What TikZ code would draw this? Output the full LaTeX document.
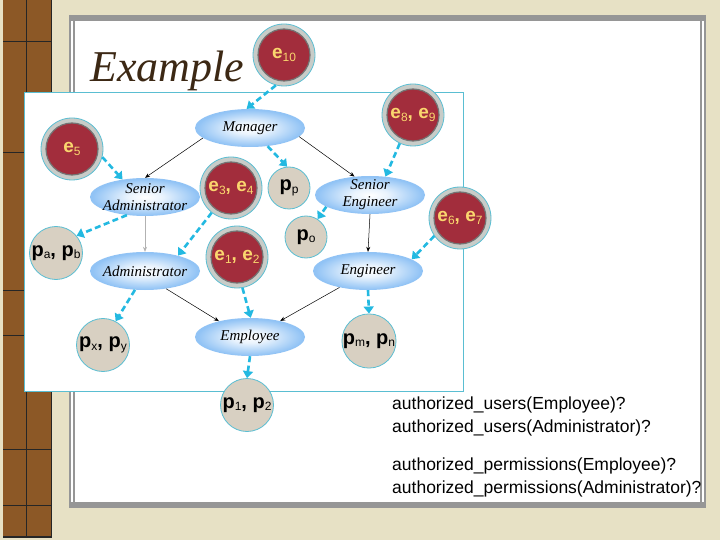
\documentclass[tikz,border=0pt]{standalone}
\usepackage{fontspec}
\setmainfont{Liberation Serif}
\setsansfont{Liberation Sans}
\usetikzlibrary{arrows.meta,shapes.geometric}

\definecolor{slidebg}{RGB}{231,225,197}
\definecolor{wood}{RGB}{140,88,38}
\definecolor{framegray}{RGB}{150,150,150}
\definecolor{boxcyan}{RGB}{90,190,210}
\definecolor{linkcyan}{RGB}{35,185,225}
\definecolor{ered}{RGB}{162,45,60}
\definecolor{eyellow}{RGB}{250,214,110}
\definecolor{ringgray}{RGB}{200,204,200}
\definecolor{pbeige}{RGB}{216,208,194}
\definecolor{roleblue}{RGB}{145,195,245}
\definecolor{titlebrown}{RGB}{60,40,20}

\pgfdeclareradialshading{roleshade}{\pgfpoint{0bp}{0bp}}{%
  color(0bp)=(white); color(8bp)=(white!80!roleblue);
  color(24bp)=(roleblue); color(50bp)=(roleblue)}

% small lowered index in the chips
\newcommand\lo[1]{\raisebox{-2.5bp}{\fontsize{12bp}{12bp}\selectfont\mdseries #1}}

\begin{document}
\begin{tikzpicture}[x=1bp, y=-1bp,
  role/.style={ellipse, minimum width=110bp, minimum height=38bp,
    inner sep=-4bp, shade, shading=roleshade, align=center,
    font=\itshape\fontsize{15bp}{17bp}\selectfont},
  echip/.style={circle, minimum size=62bp, inner sep=0pt, fill=ringgray,
    draw=boxcyan, line width=0.8bp, text=eyellow,
    font=\sffamily\bfseries\fontsize{19bp}{19bp}\selectfont,
    path picture={\filldraw[fill=ered, draw=black!55, line width=1.2bp]
      (path picture bounding box.center) circle (26bp);}},
  pchip/.style={circle, minimum size=#1, inner sep=0pt, fill=pbeige,
    draw=boxcyan, line width=0.8bp,
    font=\sffamily\bfseries\fontsize{20bp}{20bp}\selectfont},
  inherit/.style={-{Stealth[length=5bp, width=4bp]}, line width=0.5bp},
  assign/.style={-{Triangle[length=7bp, width=10bp]}, linkcyan,
    line width=2.6bp, dash pattern=on 6bp off 3.5bp}]

  % Slide background
  \useasboundingbox (0,0) rectangle (720,540);
  \fill[slidebg] (0,0) rectangle (720,540);
  \fill[wood] (3,0) rectangle (52,537);
  \draw[black!85, line width=1bp] (26,0) -- (26,537);
  \foreach \yy in {42,153,290,335,449,505}
    \draw[black!85, line width=1bp] (3,\yy) -- (52,\yy);
  \draw[black!85, line width=1.5bp] (51.5,0) -- (51.5,537) -- (3,537);

  % Slide panel
  \fill[white] (69,15) rectangle (706,508);
  \fill[framegray] (69,15) rectangle (706,21);
  \fill[framegray] (69,502) rectangle (706,508);
  \draw[framegray, line width=2bp] (70,15) -- (70,508) (73.5,21) -- (73.5,502)
    (704.5,15) -- (704.5,508) (701,21) -- (701,502);

  % Diagram box
  \filldraw[fill=white, draw=boxcyan, line width=1bp] (24,93) rectangle (463,391);

  % Title
  \node[font=\itshape\fontsize{44bp}{44bp}\selectfont, text=titlebrown,
    anchor=base west, inner sep=0pt] (title) at (90,82) {Example};

  % Roles
  \node[role] (mgr) at (250,128) {Manager};
  \node[role] (sadm) at (145,197) {Senior\\Administrator};
  \node[role] (adm) at (145,271) {Administrator};
  \node[role] (emp) at (250,337) {Employee};
  \node[role] (seng) at (370,195) {Senior\\Engineer};
  \node[role] (eng) at (368,271) {Engineer};

  % Users
  \node[echip] (e10) at (284,55) {e\lo{10}};
  \node[echip] (e5) at (72,149) {e\lo{5}};
  \node[echip] (e34) at (231,188) {e\lo{3}, e\lo{4}};
  \node[echip] (e12) at (237,257) {e\lo{1}, e\lo{2}};
  \node[echip] (e89) at (413,115) {e\lo{8}, e\lo{9}};
  \node[echip] (e67) at (460,218) {e\lo{6}, e\lo{7}};

  % Permissions
  \node[pchip=42bp] (pp) at (289,188) {p\lo{p}};
  \node[pchip=42bp] (po) at (306,237) {p\lo{o}};
  \node[pchip=53bp] (pab) at (56,253) {p\lo{a}, p\lo{b}};
  \node[pchip=53bp] (pxy) at (103,345) {p\lo{x}, p\lo{y}};
  \node[pchip=53bp] (pmn) at (369,341) {p\lo{m}, p\lo{n}};
  \node[pchip=53bp] (p12) at (247,405) {p\lo{1}, p\lo{2}};

  % Hierarchy
  \draw[inherit] (mgr.192) -- (sadm.north);
  \draw[inherit] (mgr.350) -- (seng.130);
  \draw[inherit, black!30] (sadm.south) -- (adm.north);
  \draw[inherit] (seng.south) -- (eng.north);
  \draw[inherit] (adm.320) -- (emp.153);
  \draw[inherit] (eng.210) -- (emp.28);

  % Assignments
  \draw[assign] (e10.255) -- (mgr.100);
  \draw[assign] (e5.345) -- (sadm.142);
  \draw[assign] (e89.245) -- (seng.50);
  \draw[assign] (e34.232) -- (adm.25);
  \draw[assign] (e67.215) -- (eng.15);
  \draw[assign] (e12.280) -- (emp.88);
  \draw[assign] (mgr.314) -- (pp.95);
  \draw[assign] (seng.195) -- (po.57);
  \draw[assign] (sadm.225) -- (pab.40);
  \draw[assign] (adm.242) -- (pxy.62);
  \draw[assign] (eng.south) -- (pmn.north);
  \draw[assign] (emp.south) -- (p12.north);

  % Queries
  \node[anchor=base west, align=left, inner sep=0pt,
    font=\sffamily\fontsize{17.5bp}{23bp}\selectfont] (queries) at (392,493)
    {authorized\_users(Employee)?\\authorized\_users(Administrator)?\\[15bp]
     authorized\_permissions(Employee)?\\authorized\_permissions(Administrator)?};

\end{tikzpicture}
\end{document}
